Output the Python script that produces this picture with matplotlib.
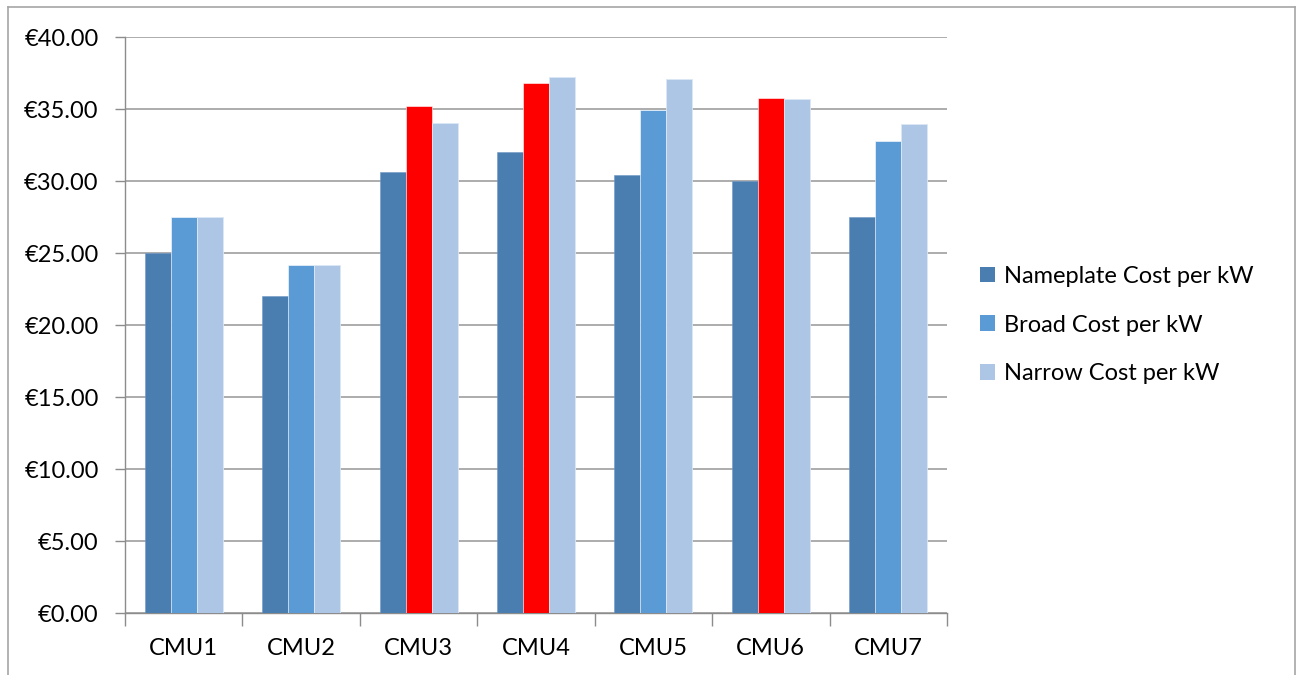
import numpy as np
import matplotlib.pyplot as plt
from matplotlib.lines import Line2D
from matplotlib.patches import Patch

plt.rcParams['font.family'] = ['Lato', 'DejaVu Sans']

# Cost per kW for each CMU
categories = ['CMU1', 'CMU2', 'CMU3', 'CMU4', 'CMU5', 'CMU6', 'CMU7']
nameplate = [25.00, 22.00, 30.62, 32.00, 30.42, 30.02, 27.50]
broad     = [27.48, 24.17, 35.21, 36.80, 34.95, 35.76, 32.75]
narrow    = [27.48, 24.17, 34.00, 37.24, 37.10, 35.72, 33.97]
flagged   = [False, False, True, True, False, True, False]  # broad bars shown in red

series_names = ['Nameplate Cost per kW', 'Broad Cost per kW', 'Narrow Cost per kW']
c_name, c_broad, c_narrow = '#4A7EB0', '#5B9BD5', '#ADC6E5'
fs = 17

W, H = 1300, 675
fig = plt.figure(figsize=(13, 6.75), dpi=100)
ax = fig.add_axes([125 / W, (H - 613) / H, 822 / W, 576 / H])

x = np.arange(len(categories))
bw = 0.2215
broad_colors = ['#FF0000' if f else c_broad for f in flagged]
ax.bar(x - bw, nameplate, bw, color=c_name, edgecolor='#6F98C4', linewidth=0.4, zorder=3)
ax.bar(x, broad, bw, color=broad_colors, edgecolor='white', linewidth=0.4, zorder=3)
ax.bar(x + bw, narrow, bw, color=c_narrow, edgecolor='#DCE7F4', linewidth=0.6, zorder=3)

ax.set_xlim(-0.5, len(categories) - 0.5)
ax.set_ylim(0, 40)
ax.set_yticks(np.arange(0, 41, 5))
ax.set_yticklabels([f'€{v:.2f}' for v in np.arange(0, 41, 5)])
ax.yaxis.grid(True, color='#A6A6A6', linewidth=1.3, zorder=0)

# category ticks sit between groups
ax.set_xticks(np.arange(-0.5, len(categories), 1.0))
ax.set_xticklabels([])
ax.set_xticks(x, minor=True)
ax.set_xticklabels(categories, minor=True)
ax.tick_params(axis='x', which='major', length=9, width=1, color='#8C8C8C', direction='out')
ax.tick_params(axis='x', which='minor', length=0, pad=18, labelsize=fs)
ax.tick_params(axis='y', length=7, width=1, color='#8C8C8C', pad=12, labelsize=fs)

for side in ['top', 'right']:
    ax.spines[side].set_visible(False)
for side in ['left', 'bottom']:
    ax.spines[side].set_color('#8C8C8C')
    ax.spines[side].set_linewidth(1)

handles = [Patch(facecolor=c, edgecolor='none') for c in (c_name, c_broad, c_narrow)]
fig.legend(handles, series_names, loc='center left', bbox_to_anchor=(980 / W, (H - 325) / H),
           frameon=False, fontsize=fs, handlelength=0.65, handleheight=0.65,
           handletextpad=0.35, labelspacing=1.17, borderpad=0, borderaxespad=0)

# chart outline
border = dict(color='#A6A6A6', linewidth=1.2, transform=fig.transFigure)
fig.add_artist(Line2D([8 / W, 1295 / W], [(H - 7) / H] * 2, **border))
fig.add_artist(Line2D([8 / W] * 2, [0, (H - 7) / H], **border))
fig.add_artist(Line2D([1295 / W] * 2, [0, (H - 7) / H], **border))

fig.savefig('out.png', dpi=100, facecolor='white')
